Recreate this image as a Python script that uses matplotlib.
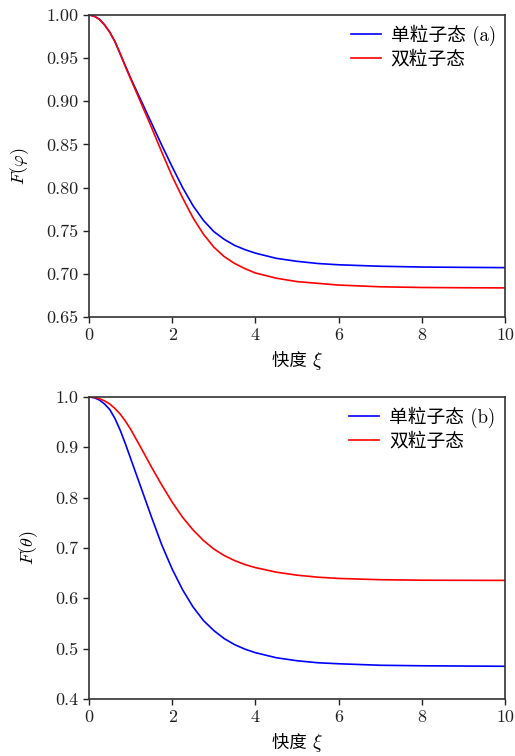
import numpy as np
import matplotlib
matplotlib.use("Agg")
import matplotlib.pyplot as plt

plt.rcParams['font.family'] = ['cmr10', 'Noto Sans CJK SC']
plt.rcParams['mathtext.fontset'] = 'cm'
plt.rcParams['axes.unicode_minus'] = False
plt.rcParams['axes.formatter.use_mathtext'] = False

xi = [0, 0.125, 0.25, 0.375, 0.5, 0.625, 0.75, 0.875, 1.0, 1.25, 1.5, 1.75,
      2.0, 2.25, 2.5, 2.75, 3.0, 3.25, 3.5, 3.75, 4.0, 4.5, 5.0, 5.5, 6.0,
      7.0, 8.0, 9.0, 10.0]

# panel (a): F(phi)
a_single = [1.0, 0.9987, 0.995, 0.9885, 0.980, 0.969, 0.955, 0.941, 0.927,
            0.901, 0.875, 0.849, 0.824, 0.800, 0.779, 0.762, 0.749, 0.740,
            0.733, 0.728, 0.724, 0.718, 0.7145, 0.712, 0.7105, 0.7088, 0.7079,
            0.7075, 0.7072]
a_double = [1.0, 0.9987, 0.995, 0.9885, 0.980, 0.969, 0.955, 0.940, 0.926,
            0.898, 0.870, 0.841, 0.813, 0.788, 0.765, 0.746, 0.731, 0.720,
            0.712, 0.706, 0.701, 0.695, 0.691, 0.689, 0.687, 0.685, 0.6842,
            0.6839, 0.6837]

# panel (b): F(theta)
b_single = [1.0, 0.9985, 0.994, 0.986, 0.975, 0.957, 0.934, 0.907, 0.878,
            0.820, 0.762, 0.706, 0.658, 0.617, 0.583, 0.556, 0.536, 0.520,
            0.508, 0.499, 0.492, 0.482, 0.476, 0.472, 0.470, 0.467, 0.466,
            0.4655, 0.465]
b_double = [1.0, 0.9992, 0.9966, 0.9922, 0.986, 0.977, 0.966, 0.952, 0.936,
            0.899, 0.861, 0.825, 0.791, 0.761, 0.736, 0.715, 0.698, 0.685,
            0.675, 0.667, 0.661, 0.652, 0.646, 0.642, 0.6395, 0.637, 0.636,
            0.6358, 0.6356]

labels_a = ['单粒子态 (a)', '双粒子态']
labels_b = ['单粒子态 (b)', '双粒子态']

fig = plt.figure(figsize=(5.15, 7.56), dpi=100)
ax1 = fig.add_axes([0.1728, 0.5807, 0.8078, 0.3995])
ax2 = fig.add_axes([0.1728, 0.0754, 0.8078, 0.3995])


def style(ax, ylim, yticks, yfmt, ylabel, labels):
    ax.set_xlim(0, 10)
    ax.set_ylim(*ylim)
    ax.set_xticks([0, 2, 4, 6, 8, 10])
    ax.set_yticks(yticks)
    ax.set_yticklabels([yfmt % v for v in yticks])
    ax.tick_params(direction='out', length=4, width=1, labelsize=13,
                   colors='#222222', top=False, right=False)
    for s in ax.spines.values():
        s.set_linewidth(1.2)
        s.set_color('#333333')
    ax.set_ylabel(ylabel, fontsize=13, labelpad=11)
    xl = ax.set_xlabel('快度 ', fontsize=12.5, labelpad=7, x=0.488)
    ax.annotate(r'$\xi$', xy=(1, 0.45), xycoords=xl, ha='left', va='center',
                fontsize=14)
    ax.legend(labels, loc='upper right', frameon=False, fontsize=13.5,
              handlelength=1.6, handletextpad=0.53, labelspacing=0.25,
              borderaxespad=0.1)


ax1.plot(xi, a_single, color='#0000ff', lw=1.2)
ax1.plot(xi, a_double, color='#ff0000', lw=1.2)
style(ax1, (0.65, 1.0), [0.65, 0.70, 0.75, 0.80, 0.85, 0.90, 0.95, 1.00], '%.2f',
      r'$F(\varphi)$', labels_a)

ax2.plot(xi, b_single, color='#0000ff', lw=1.2)
ax2.plot(xi, b_double, color='#ff0000', lw=1.2)
style(ax2, (0.4, 1.0), [0.4, 0.5, 0.6, 0.7, 0.8, 0.9, 1.0], '%.1f',
      r'$F(\theta)$', labels_b)

fig.savefig('out.png', dpi=100)
